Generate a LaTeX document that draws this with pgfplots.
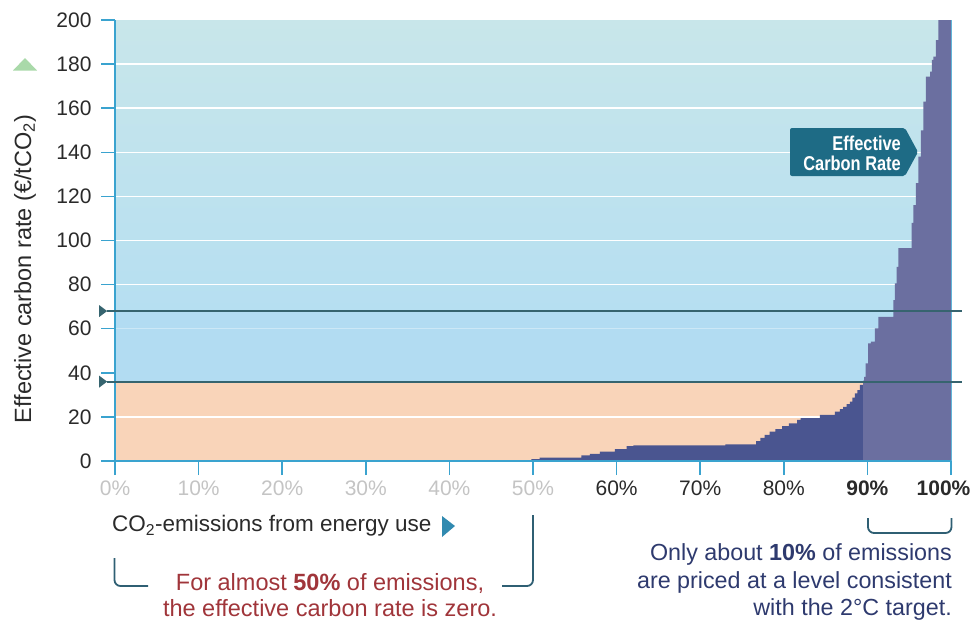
\documentclass[border=0pt]{standalone}
\usepackage{fontspec}
\setmainfont{Liberation Sans}
\newfontfamily\cond[FakeStretch=0.82]{Liberation Sans}
\usepackage{pgfplots}
\pgfplotsset{compat=1.18}
\definecolor{topteal}{HTML}{C8E6EA}
\definecolor{midblue}{HTML}{B6DFF1}
\definecolor{bandblue}{HTML}{B2DCF2}
\definecolor{peach}{HTML}{F9D4B9}
\definecolor{navy}{HTML}{4A5590}
\definecolor{purp}{HTML}{6B6FA0}
\definecolor{axisblue}{HTML}{3AA3CF}
\definecolor{refcol}{HTML}{36646F}
\definecolor{boxcol}{HTML}{1E6B85}
\definecolor{tri}{HTML}{A9D9A9}
\definecolor{brk}{HTML}{2F5F73}
\definecolor{redt}{HTML}{A0353A}
\definecolor{navyt}{HTML}{2E3A6E}
\definecolor{lgray}{HTML}{C4C4C4}
\definecolor{dgray}{HTML}{2A2A2A}
\newcommand{\fs}[1]{\fontsize{#1bp}{1.2\dimexpr#1bp\relax}\selectfont}
\begin{document}
\begin{tikzpicture}
\useasboundingbox (0,0) rectangle (970bp,-623bp);
\begin{axis}[
  at={(115bp,-461bp)}, anchor=south west,
  scale only axis, width=836bp, height=441bp,
  xmin=0, xmax=100, ymin=0, ymax=200,
  clip=false,
  axis line style={draw=none},
  xtick={0,10,20,30,40,50,60,70,80,90,100},
  ytick={0,20,40,60,80,100,120,140,160,180,200},
  xticklabels={\textcolor{lgray}{0\%},\textcolor{lgray}{10\%},\textcolor{lgray}{20\%},\textcolor{lgray}{30\%},\textcolor{lgray}{40\%},\textcolor{lgray}{50\%},60\%,70\%,80\%,\textbf{90\%},\textbf{100\%}\hspace*{15bp}},
  yticklabels={0,20,40,60,80,100,120,140,160,180,200},
  tick align=outside, xtick pos=bottom, ytick pos=left,
  major tick length=14bp,
  tick style={axisblue, line width=1.5bp},
  ticklabel style={font=\fs{21}, text=dgray},
  yticklabel style={xshift=-6bp},
  xticklabel style={yshift=-2.5bp},
]
\fill[peach] (axis cs:0,0) rectangle (axis cs:100,36);
\fill[bandblue] (axis cs:0,36) rectangle (axis cs:100,68);
\shade[top color=topteal, bottom color=midblue] (axis cs:0,68) rectangle (axis cs:100,200);
\pgfplotsinvokeforeach{20,80,100,120,140,160,180}{
  \draw[white, line width=1.5bp] (axis cs:0,#1) -- (axis cs:100,#1);
}
\draw[white, opacity=0.35, line width=1.5bp] (axis cs:0,60) -- (axis cs:100,60);
\addplot[const plot, fill=navy, draw=none] coordinates {
(0,0) (49.8,0.8) (50.8,1.5) (55.8,2.5) (56.8,3.2) (58.0,4.2) (59.8,5.4) (61.2,6.8) (62.0,7.1) (73.0,7.5) (76.7,9.0) (77.2,10.5) (77.7,11.8) (78.3,13.3) (79.0,14.5) (79.8,15.8) (80.6,17.1) (81.6,18.6) (82.0,19.4) (84.3,20.9) (86.1,22.4) (86.7,23.5) (87.1,24.6) (87.5,25.8) (87.9,26.9) (88.2,28.8) (88.5,30.7) (88.8,32.2) (89.1,34.5) (89.5,34.5)
} \closedcycle;
\addplot[const plot, fill=purp, draw=none] coordinates {
(89.5,36.5) (89.6,38.2) (89.8,44.3) (90.1,53.4) (90.4,54.1) (90.9,60.2) (91.3,65.4) (93.1,73) (93.3,80.6) (93.5,88) (93.7,96.6) (95.3,108) (95.5,116) (95.8,126) (96.1,138) (96.4,150) (96.7,163) (97.0,174.3) (97.5,176.6) (97.7,181.9) (97.9,183.4) (98.2,190.9) (98.5,200) (100,200)
} \closedcycle;
\draw[axisblue, line width=1.5bp] (axis cs:0,200) -- (axis cs:0,0) -- (axis cs:100,0);
\draw[axisblue!80, line width=1bp] (axis cs:100,0) -- (axis cs:100,200);
\draw[refcol, line width=2bp] (axis cs:-1.0,68) -- (axis cs:101.3,68);
\draw[refcol, line width=2bp] (axis cs:-1.0,36) -- (axis cs:101.3,36);
\fill[refcol] (axis cs:-1.9,68) ++(0,6bp) -- ++(8bp,-6bp) -- ++(-8bp,-6bp) -- cycle;
\fill[refcol] (axis cs:-1.9,36) ++(0,6bp) -- ++(8bp,-6bp) -- ++(-8bp,-6bp) -- cycle;
\end{axis}
% y label
\node[rotate=90, text=dgray, font=\fs{23.5}] at (25bp,-269bp) {Effective carbon rate (€/tCO\textsubscript{2})};
% green triangle
\fill[tri] (13bp,-70.5bp) -- (25bp,-58bp) -- (37bp,-70.5bp) -- cycle;
% x label
\node[anchor=west, text=dgray, font=\fs{22.5}, inner sep=0pt] at (112bp,-526bp) {CO\textsubscript{2}-emissions from energy use};
\fill[axisblue!85!black] (442bp,-516bp) -- (455bp,-526bp) -- (442bp,-537bp) -- cycle;
% box
\fill[boxcol, rounded corners=2bp] (790bp,-128bp) -- (905bp,-128bp) -- (918bp,-152bp) -- (905bp,-176bp) -- (790bp,-176bp) -- cycle;
\node[anchor=east, align=right, text=white, font=\cond\bfseries\fs{20}, inner sep=0pt] at (901bp,-153bp) {Effective\\[-4bp]Carbon Rate};
% brackets
\draw[brk, line width=1.8bp, rounded corners=6bp] (114.5bp,-558bp) -- (114.5bp,-586bp) -- (148bp,-586bp);
\draw[brk, line width=1.8bp, rounded corners=6bp] (502bp,-586bp) -- (533bp,-586bp) -- (533bp,-515bp);
\draw[brk, line width=1.8bp, rounded corners=6bp] (868bp,-518bp) -- (868bp,-533bp) -- (951.5bp,-533bp) -- (951.5bp,-518bp);
% red text
\node[anchor=base, text=redt, font=\fs{23.5}, inner sep=0pt] at (330bp,-590bp) {For almost \textbf{50\%} of emissions,};
\node[anchor=base, text=redt, font=\fs{23.5}, inner sep=0pt] at (330bp,-616bp) {the effective carbon rate is zero.};
% navy text
\node[anchor=base east, text=navyt, font=\fs{23.3}, inner sep=0pt] at (952bp,-560bp) {Only about \textbf{10\%} of emissions};
\node[anchor=base east, text=navyt, font=\fs{23.3}, inner sep=0pt] at (952bp,-588bp) {are priced at a level consistent};
\node[anchor=base east, text=navyt, font=\fs{23.3}, inner sep=0pt] at (952bp,-615bp) {with the 2°C target.};
\end{tikzpicture}
\end{document}
